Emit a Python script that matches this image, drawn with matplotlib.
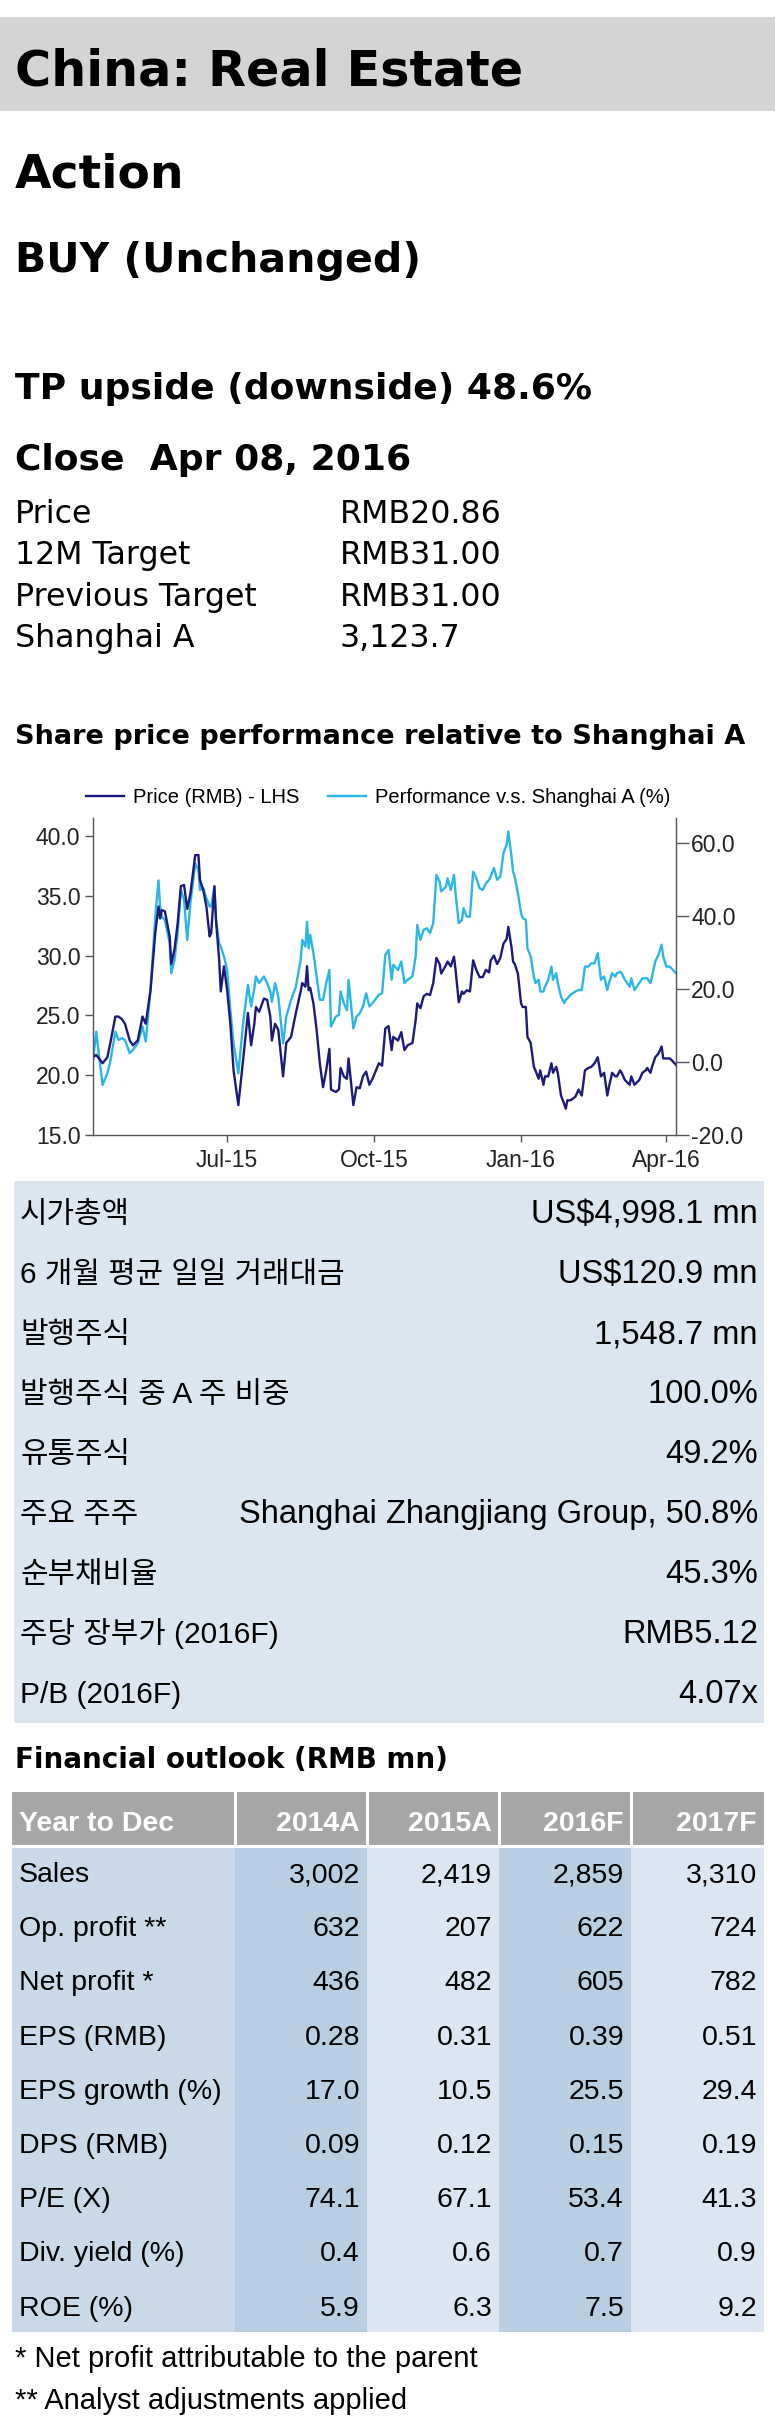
import matplotlib
matplotlib.use("Agg")
import matplotlib.pyplot as plt
import matplotlib.dates as mdates
from matplotlib.patches import Rectangle
from matplotlib.ticker import FormatStrFormatter
import pandas as pd

W, H = 775, 2435

plt.rcParams["font.family"] = ["Liberation Sans", "DejaVu Sans"]

# ---- header block
TITLE = "China: Real Estate"
ACTION = "Action"
RATING = "BUY (Unchanged)"
UPSIDE = "TP upside (downside) 48.6%"
CLOSE = "Close  Apr 08, 2016"
QUOTE_LABELS = ["Price", "12M Target", "Previous Target", "Shanghai A"]
QUOTE_VALUES = ["RMB20.86", "RMB31.00", "RMB31.00", "3,123.7"]

# ---- share price chart (days counted from START)
CHART_TITLE = "Share price performance relative to Shanghai A"
START = "2015-04-08"
DAYS = [
    0, 2, 6, 9, 11, 14, 16, 18, 20, 23,
    25, 28, 31, 33, 36, 39, 41, 42, 43, 45,
    48, 49, 51, 53, 55, 57, 59, 61, 64, 66,
    67, 69, 71, 73, 74, 76, 77, 79, 80, 82,
    84, 86, 88, 91, 94, 97, 99, 101, 102, 104,
    107, 109, 111, 112, 114, 116, 119, 121, 124, 127,
    130, 131, 133, 134, 135, 136, 138, 140, 142, 144,
    146, 148, 149, 152, 154, 155, 157, 159, 160, 163,
    165, 167, 169, 171, 173, 175,
    179, 181, 183, 185, 187, 188, 191, 193, 195, 197,
    200, 202, 203, 205, 207, 209, 211, 213, 215, 217,
    218, 221, 222, 224, 226, 227, 229, 231, 232, 234,
    236, 238, 240, 242, 244, 246, 248, 249, 251, 253,
    255, 257, 259, 260, 262, 263, 264, 266, 268, 269,
    271, 272, 274, 276, 277, 279, 280, 282, 283, 285,
    287, 288, 290, 291, 293, 295, 296, 297, 299, 302,
    304, 306, 308, 310, 312, 314, 316, 318, 320, 322,
    323, 325, 327, 328, 330, 331, 333, 336, 337, 339,
    342, 344, 346, 347, 349, 350, 352, 354, 356, 357,
    359, 361, 362, 365,
]
PRICE = [
    21.5, 21.7, 21.0, 21.5, 22.8, 24.9, 24.9, 24.7, 24.3, 22.9,
    22.5, 22.9, 24.9, 24.3, 27.1, 31.9, 34.1, 33.1, 33.8, 33.7,
    31.6, 29.3, 30.5, 32.7, 35.8, 35.9, 33.9, 35.2, 38.4, 38.4,
    36.3, 35.5, 34.1, 31.6, 31.9, 35.8, 33.0, 29.6, 27.0, 29.1,
    27.1, 24.3, 20.4, 17.5, 21.3, 25.2, 22.5, 24.3, 25.7, 25.3,
    26.4, 26.3, 24.9, 22.9, 24.3, 23.8, 19.9, 22.7, 23.2, 25.2,
    27.0, 27.7, 27.4, 29.1, 27.1, 27.3, 26.0, 23.8, 21.0, 19.0,
    20.4, 22.2, 18.8, 18.6, 18.8, 20.6, 19.9, 19.7, 21.4, 17.5,
    19.0, 18.9, 19.9, 20.3, 19.2, 19.7,
    21.0, 20.8, 23.9, 24.1, 22.1, 23.2, 22.9, 23.6, 22.1, 22.5,
    22.7, 24.6, 26.0, 25.6, 26.6, 26.8, 26.7, 27.7, 29.8, 29.3,
    28.5, 29.2, 29.5, 29.1, 29.9, 28.8, 26.1, 27.0, 26.8, 27.1,
    27.0, 29.6, 28.8, 28.2, 28.2, 28.8, 28.6, 29.6, 30.0, 29.3,
    29.8, 31.0, 31.4, 32.4, 30.7, 29.5, 29.3, 28.5, 26.0, 25.7,
    25.7, 23.2, 22.7, 20.7, 20.4, 19.7, 20.4, 19.2, 19.9, 19.9,
    21.0, 20.2, 20.7, 20.2, 18.3, 17.6, 17.2, 17.9, 17.9, 18.2,
    18.8, 18.3, 20.4, 20.6, 20.7, 21.0, 21.5, 19.9, 20.2, 18.3,
    19.0, 20.2, 19.9, 19.9, 20.4, 20.2, 19.6, 19.2, 19.9, 19.2,
    19.6, 20.2, 20.4, 20.6, 20.2, 20.7, 21.5, 21.8, 22.4, 21.4,
    21.4, 21.4, 21.3, 20.86,
]
PERF = [
    0.5, 8.3, -6.3, -3.1, 0.5, 8.3, 6.0, 6.5, 6.0, 2.4,
    3.3, 5.1, 9.7, 5.6, 19.7, 39.8, 49.7, 42.6, 39.8, 38.9,
    32.5, 24.3, 27.9, 35.3, 47.1, 44.4, 33.4, 43.5, 54.4, 52.6,
    47.1, 47.6, 44.8, 42.6, 42.6, 48.0, 38.9, 32.5, 31.6, 28.9,
    25.2, 14.2, 5.1, -3.1, 10.6, 21.1, 15.2, 20.2, 23.4, 21.6,
    23.4, 21.6, 19.3, 16.5, 21.6, 17.9, 5.1, 12.4, 17.0, 20.6,
    27.9, 33.4, 31.6, 38.4, 31.1, 34.8, 29.8, 23.4, 17.0, 17.0,
    21.6, 25.2, 9.7, 12.4, 12.9, 19.3, 16.1, 14.2, 22.5, 9.2,
    12.4, 13.3, 15.2, 18.8, 15.2, 16.1,
    18.4, 18.8, 29.3, 30.7, 22.5, 26.6, 25.2, 27.5, 21.6, 22.5,
    23.4, 28.9, 37.5, 33.4, 36.2, 36.6, 35.3, 38.0, 51.2, 49.4,
    46.7, 48.0, 50.3, 47.1, 51.2, 46.2, 38.0, 38.9, 42.1, 39.8,
    39.8, 52.1, 50.3, 47.6, 47.1, 48.9, 49.9, 50.8, 53.1, 49.9,
    50.8, 57.2, 59.5, 63.1, 56.3, 52.1, 50.8, 46.2, 40.7, 39.4,
    38.9, 31.1, 28.9, 23.4, 21.6, 22.5, 19.3, 19.3, 20.6, 22.5,
    26.1, 22.5, 24.3, 21.6, 17.9, 16.1, 17.0, 17.4, 18.4, 19.3,
    19.7, 19.7, 26.1, 26.1, 27.0, 27.0, 29.8, 22.5, 23.4, 19.7,
    21.6, 24.3, 23.4, 24.3, 24.7, 24.3, 22.5, 20.6, 22.9, 19.7,
    21.6, 22.9, 22.9, 22.9, 21.6, 23.4, 27.5, 29.3, 32.1, 28.9,
    26.1, 26.1, 25.7, 24.3,
]
PRICE_LABEL = "Price (RMB) - LHS"
PERF_LABEL = "Performance v.s. Shanghai A (%)"
LEFT_TICKS = [15, 20, 25, 30, 35, 40]
RIGHT_TICKS = [-20, 0, 20, 40, 60]

# ---- key data box
KEY_LABELS = ["시가총액", "6 개월 평균 일일 거래대금", "발행주식", "발행주식 중 A 주 비중",
              "유통주식", "주요 주주", "순부채비율", "주당 장부가 (2016F)", "P/B (2016F)"]
KEY_VALUES = ["US$4,998.1 mn", "US$120.9 mn", "1,548.7 mn", "100.0%", "49.2%",
              "Shanghai Zhangjiang Group, 50.8%", "45.3%", "RMB5.12", "4.07x"]

# ---- financial outlook table
TABLE_TITLE = "Financial outlook (RMB mn)"
HEAD_LABEL = "Year to Dec"
YEARS = ["2014A", "2015A", "2016F", "2017F"]
ROW_LABELS = ["Sales", "Op. profit **", "Net profit *", "EPS (RMB)", "EPS growth (%)",
              "DPS (RMB)", "P/E (X)", "Div. yield (%)", "ROE (%)"]
COL_2014A = ["3,002", "632", "436", "0.28", "17.0", "0.09", "74.1", "0.4", "5.9"]
COL_2015A = ["2,419", "207", "482", "0.31", "10.5", "0.12", "67.1", "0.6", "6.3"]
COL_2016F = ["2,859", "622", "605", "0.39", "25.5", "0.15", "53.4", "0.7", "7.5"]
COL_2017F = ["3,310", "724", "782", "0.51", "29.4", "0.19", "41.3", "0.9", "9.2"]
FOOTNOTES = ["* Net profit attributable to the parent", "** Analyst adjustments applied"]

NAVY = "#1c1a7a"
CYAN = "#2ab6e6"
HEAVY = ["DejaVu Sans"]
PLAIN = ["DejaVu Sans"]
ARIAL = ["Liberation Sans", "Noto Sans CJK KR", "DejaVu Sans"]

fig = plt.figure(figsize=(W / 100, H / 100), dpi=100)

# background layer in pixel coordinates (y down)
bg = fig.add_axes([0, 0, 1, 1])
bg.set_xlim(0, W)
bg.set_ylim(H, 0)
bg.axis("off")


def put(x, y, s, size, family=ARIAL, weight="normal", ha="left", color="black"):
    bg.text(x, y, s, fontsize=size, family=family, weight=weight, ha=ha,
            va="baseline", color=color)


def box(x0, y0, x1, y1, color):
    bg.add_patch(Rectangle((x0, y0), x1 - x0, y1 - y0, facecolor=color,
                           edgecolor="none", zorder=0))


# header
box(0, 17, W, 111, "#d4d4d4")
put(15, 85, TITLE, 35.5, HEAVY, "bold")
put(15, 188, ACTION, 34, HEAVY, "bold")
put(15, 272, RATING, 29.5, HEAVY, "bold")
put(15, 399, UPSIDE, 26, HEAVY, "bold")
put(15, 470, CLOSE, 26, HEAVY, "bold")
for i, (lab, val) in enumerate(zip(QUOTE_LABELS, QUOTE_VALUES)):
    y = 523 + 41.3 * i
    put(15, y, lab, 22.8, PLAIN)
    put(340, y, val, 22.8, PLAIN)

put(15, 744, CHART_TITLE, 19.5, HEAVY, "bold")

# chart
ax = fig.add_axes([93 / W, 1 - 1135 / H, (676 - 93) / W, (1135 - 818) / H])
ax2 = ax.twinx()
dates = pd.Timestamp(START) + pd.to_timedelta(DAYS, unit="D")
l2, = ax2.plot(dates, PERF, color=CYAN, lw=1.7, label=PERF_LABEL)
l1, = ax.plot(dates, PRICE, color=NAVY, lw=1.7, label=PRICE_LABEL)
ax.set_zorder(ax2.get_zorder() + 1)
ax.patch.set_visible(False)

ax.set_xlim(dates[0], dates[-1])
ax.set_ylim(15, 41.5)
ax2.set_ylim(-20, 66.8)
ax.set_yticks(LEFT_TICKS)
ax2.set_yticks(RIGHT_TICKS)
ax.yaxis.set_major_formatter(FormatStrFormatter("%.1f"))
ax2.yaxis.set_major_formatter(FormatStrFormatter("%.1f"))
ax.xaxis.set_major_locator(mdates.MonthLocator(bymonth=[1, 4, 7, 10]))
ax.xaxis.set_major_formatter(mdates.DateFormatter("%b-%y"))

for a in (ax, ax2):
    a.spines["top"].set_visible(False)
    for s in ("left", "right", "bottom"):
        a.spines[s].set_color("#555555")
        a.spines[s].set_linewidth(1.0)
ax.spines["right"].set_visible(False)
ax2.spines["left"].set_visible(False)
ax2.spines["bottom"].set_visible(False)
ax.tick_params(axis="y", length=6, width=1, color="#555555", labelsize=16.5,
               labelcolor="#222222", pad=3)
ax.tick_params(axis="x", length=5, width=1, color="#555555", labelsize=16.5,
               labelcolor="#222222", pad=5)
ax2.tick_params(axis="y", length=9, width=1, color="#555555", labelsize=16.5,
                labelcolor="#222222", pad=2)
ax.legend([l1, l2], [PRICE_LABEL, PERF_LABEL], loc="center",
          bbox_to_anchor=(0.489, 1.066), ncol=2, frameon=False, fontsize=14.5,
          handlelength=1.9, handletextpad=0.45, columnspacing=1.4)

# key data box
box(14, 1181, 764, 1723, "#dce6f1")
for i, (lab, val) in enumerate(zip(KEY_LABELS, KEY_VALUES)):
    y = 1223 + 60.0 * i
    put(20, y, lab, 21.5)
    put(758, y, val, 23.5, ha="right")

# financial outlook
put(15, 1768, TABLE_TITLE, 20, HEAVY, "bold")
edges = [12, 235, 367, 499, 631, 764]
body_colors = ["#c9d9ea", "#b8cee3", "#dce6f2", "#b8cee3", "#dce6f2"]
for i in range(5):
    x0 = edges[i] + (1.5 if i > 0 else 0)
    x1 = edges[i + 1] - (1.5 if i < 4 else 0)
    box(x0, 1792, x1, 1845, "#a6a6a6")
    box(edges[i], 1848, edges[i + 1], 2332, body_colors[i])

put(19, 1831, HEAD_LABEL, 20.5, weight="bold", color="white")
for j, yr in enumerate(YEARS):
    put(edges[j + 2] - 7, 1831, yr, 20.5, weight="bold", ha="right", color="white")

columns = [COL_2014A, COL_2015A, COL_2016F, COL_2017F]
for i, lab in enumerate(ROW_LABELS):
    y = 1882 + 54.2 * i
    put(19, y, lab, 20.5)
    for j, col in enumerate(columns):
        put(edges[j + 2] - 7, y, col[i], 20.5, ha="right")

for i, note in enumerate(FOOTNOTES):
    put(15, 2367 + 42 * i, note, 21)

fig.savefig("out.png", dpi=100)
